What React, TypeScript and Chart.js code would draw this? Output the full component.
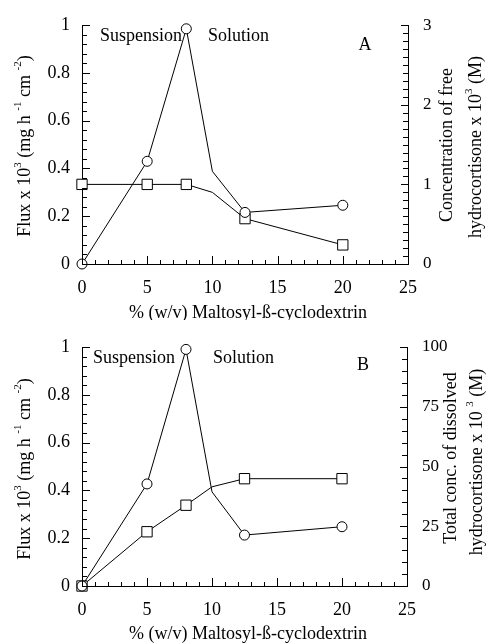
import React, { useEffect, useRef } from "react";
import { Chart, registerables } from "chart.js";
Chart.register(...registerables);

// ---- data ----
const xValues = [0, 5, 8, 10, 12.5, 20];
const markerShown = [1, 1, 1, 0, 1, 1];
const fluxA = [0, 0.43, 0.985, 0.388, 0.216, 0.246];
const freeConcA = [1.0, 1.0, 1.0, 0.9, 0.57, 0.24];
const fluxB = [0, 0.427, 0.99, 0.394, 0.213, 0.248];
const totalConcB = [0, 22.7, 33.8, 41.5, 44.9, 44.9];

const xTitle = "% (w/v) Maltosyl-ß-cyclodextrin";
const fluxTitle = [
  { t: "Flux x 10" }, { t: "3", sup: true }, { t: " (mg h " }, { t: "-1", sup: true },
  { t: " cm " }, { t: "-2", sup: true }, { t: ")" },
];
const rightTitleA1 = [{ t: "Concentration of free" }];
const rightTitleA2 = [{ t: "hydrocortisone x 10" }, { t: "3", sup: true }, { t: " (M)" }];
const rightTitleB1 = [{ t: "Total conc. of dissolved" }];
const rightTitleB2 = [{ t: "hydrocortisone x 10 " }, { t: "3", sup: true }, { t: " (M)" }];

const FONT = "'Liberation Serif', 'Times New Roman', serif";
const FS = 18;

type Part = { t: string; sup?: boolean };

function drawRich(ctx: CanvasRenderingContext2D, parts: Part[], cx: number, cy: number, rot: number) {
  ctx.save();
  ctx.translate(cx, cy);
  ctx.rotate(rot);
  const big = `${FS}px ${FONT}`;
  const small = `${Math.round(FS * 0.62)}px ${FONT}`;
  let w = 0;
  parts.forEach((p) => {
    ctx.font = p.sup ? small : big;
    w += ctx.measureText(p.t).width;
  });
  let x = -w / 2;
  ctx.textBaseline = "middle";
  ctx.textAlign = "left";
  ctx.fillStyle = "#000";
  parts.forEach((p) => {
    ctx.font = p.sup ? small : big;
    ctx.fillText(p.t, x, p.sup ? -FS * 0.4 : 0);
    x += ctx.measureText(p.t).width;
  });
  ctx.restore();
}

function ticksLoop(min: number, max: number, minor: number, major: number, cb: (v: number, isMajor: boolean) => void) {
  const n = Math.round((max - min) / minor);
  for (let i = 0; i <= n; i++) {
    const v = min + i * minor;
    const r = v / major;
    cb(v, Math.abs(r - Math.round(r)) < 1e-6);
  }
}

const decorPlugin = {
  id: "decor",
  afterDraw(chart: any) {
    const o = chart.options.plugins.decor;
    if (!o) return;
    const ctx: CanvasRenderingContext2D = chart.ctx;
    const { left, right, bottom } = chart.chartArea;
    const xs = chart.scales.x, ys = chart.scales.y, y2 = chart.scales.y2;
    ctx.save();
    ctx.strokeStyle = "#000";
    ctx.lineWidth = 1;
    ctx.beginPath();
    ticksLoop(xs.min, xs.max, 1, 5, (v, m) => {
      const px = Math.round(xs.getPixelForValue(v)) + 0.5;
      ctx.moveTo(px, bottom);
      ctx.lineTo(px, bottom - (m ? 8 : 4));
    });
    ticksLoop(ys.min, ys.max, o.leftMinor, o.leftMajor, (v, m) => {
      const py = Math.round(ys.getPixelForValue(v)) + 0.5;
      ctx.moveTo(left, py);
      ctx.lineTo(left + (m ? 8 : 5), py);
    });
    ticksLoop(y2.min, y2.max, o.rightMinor, o.rightMajor, (v, m) => {
      const py = Math.round(y2.getPixelForValue(v)) + 0.5;
      ctx.moveTo(right, py);
      ctx.lineTo(right - (m ? 7 : 5), py);
    });
    ctx.stroke();
    ctx.restore();

    ctx.save();
    ctx.fillStyle = "#000";
    ctx.font = `${FS}px ${FONT}`;
    ctx.textBaseline = "middle";
    ctx.textAlign = "left";
    o.labels.forEach((l: any) => {
      ctx.fillText(l.text, xs.getPixelForValue(l.x), ys.getPixelForValue(l.y));
    });
    ctx.restore();

    o.titles.forEach((t: any) => drawRich(ctx, t.parts, t.cx, t.cy, t.rot));
  },
};

function makeDatasets(flux: number[], conc: number[]) {
  return [
    {
      label: "Flux",
      data: xValues.map((x, i) => ({ x, y: flux[i] })),
      yAxisID: "y",
      borderColor: "#000",
      borderWidth: 1,
      backgroundColor: "#fff",
      pointStyle: "circle",
      pointRadius: markerShown.map((s) => (s ? 5 : 0)),
      pointBorderColor: "#000",
      pointBackgroundColor: "#fff",
      pointBorderWidth: 1,
      tension: 0,
      clip: false as any,
    },
    {
      label: "Conc",
      data: xValues.map((x, i) => ({ x, y: conc[i] })),
      yAxisID: "y2",
      borderColor: "#000",
      borderWidth: 1,
      backgroundColor: "#fff",
      pointStyle: "rect",
      pointRadius: markerShown.map((s) => (s ? 7.3 : 0)),
      pointBorderColor: "#000",
      pointBackgroundColor: "#fff",
      pointBorderWidth: 1,
      tension: 0,
      clip: false as any,
    },
  ];
}

type PanelProps = {
  height: number;
  top: number;
  flux: number[];
  conc: number[];
  padTop: number;
  rightWidth: number;
  xHeight: number;
  y2Max: number;
  y2Step: number;
  rightMinor: number;
  decor: any;
};

const fmt = (v: any) => String(+Number(v).toFixed(2));

function Panel(p: PanelProps) {
  const ref = useRef<HTMLCanvasElement>(null);
  useEffect(() => {
    const tickFont = { family: FONT, size: FS };
    const rightFont = { family: FONT, size: 17 };
    const chart = new Chart(ref.current as HTMLCanvasElement, {
      type: "line",
      data: { datasets: makeDatasets(p.flux, p.conc) as any },
      plugins: [decorPlugin],
      options: {
        animation: false,
        responsive: false,
        devicePixelRatio: 1,
        layout: { padding: { top: p.padTop, left: 0, right: 0, bottom: 0 } },
        plugins: {
          legend: { display: false },
          tooltip: { enabled: false },
          decor: { ...p.decor, leftMinor: 0.04, leftMajor: 0.2, rightMinor: p.rightMinor, rightMajor: p.y2Step },
        } as any,
        scales: {
          x: {
            type: "linear",
            min: 0,
            max: 25,
            ticks: { stepSize: 5, font: tickFont, color: "#000", padding: 13, callback: fmt },
            grid: { display: false, drawTicks: false },
            border: { display: true, color: "#000", width: 1 },
            afterFit: (s: any) => { s.height = p.xHeight; },
          },
          y: {
            type: "linear",
            position: "left",
            min: 0,
            max: 1,
            ticks: { stepSize: 0.2, font: tickFont, color: "#000", padding: 12, callback: fmt },
            grid: { display: false, drawTicks: false },
            border: { display: true, color: "#000", width: 1 },
            afterFit: (s: any) => { s.width = 82; },
          },
          y2: {
            type: "linear",
            position: "right",
            min: 0,
            max: p.y2Max,
            ticks: { stepSize: p.y2Step, font: rightFont, color: "#000", padding: 15, callback: fmt },
            grid: { display: false, drawTicks: false },
            border: { display: true, color: "#000", width: 1 },
            afterFit: (s: any) => { s.width = p.rightWidth; },
          },
        },
      } as any,
    });
    return () => chart.destroy();
  }, []);
  return (
    <canvas
      ref={ref}
      width={487}
      height={p.height}
      style={{ position: "absolute", left: 0, top: p.top, width: 487, height: p.height }}
    />
  );
}

export default function App() {
  const decorA = {
    labels: [
      { text: "Suspension", x: 1.38, y: 0.955 },
      { text: "Solution", x: 9.66, y: 0.955 },
      { text: "A", x: 21.2, y: 0.915 },
    ],
    titles: [
      { parts: fluxTitle, cx: 25, cy: 146, rot: -Math.PI / 2 },
      { parts: rightTitleA1, cx: 447, cy: 145, rot: -Math.PI / 2 },
      { parts: rightTitleA2, cx: 476, cy: 147, rot: -Math.PI / 2 },
      { parts: [{ t: xTitle }], cx: 248, cy: 313, rot: 0 },
    ],
  };
  const decorB = {
    labels: [
      { text: "Suspension", x: 0.85, y: 0.952 },
      { text: "Solution", x: 10.08, y: 0.952 },
      { text: "B", x: 21.15, y: 0.922 },
    ],
    titles: [
      { parts: fluxTitle, cx: 25, cy: 149, rot: -Math.PI / 2 },
      { parts: rightTitleB1, cx: 451, cy: 138, rot: -Math.PI / 2 },
      { parts: rightTitleB2, cx: 477, cy: 142, rot: -Math.PI / 2 },
      { parts: [{ t: xTitle }], cx: 248, cy: 314, rot: 0 },
    ],
  };
  return (
    <div style={{ position: "fixed", left: 0, top: 0, width: 487, height: 643, background: "#fff" }}>
      <Panel height={320} top={0} flux={fluxA} conc={freeConcA} padTop={22} rightWidth={79} xHeight={56}
        y2Max={3} y2Step={1} rightMinor={0.1} decor={decorA} />
      <Panel height={323} top={320} flux={fluxB} conc={totalConcB} padTop={27} rightWidth={80} xHeight={57}
        y2Max={100} y2Step={25} rightMinor={5} decor={decorB} />
    </div>
  );
}
